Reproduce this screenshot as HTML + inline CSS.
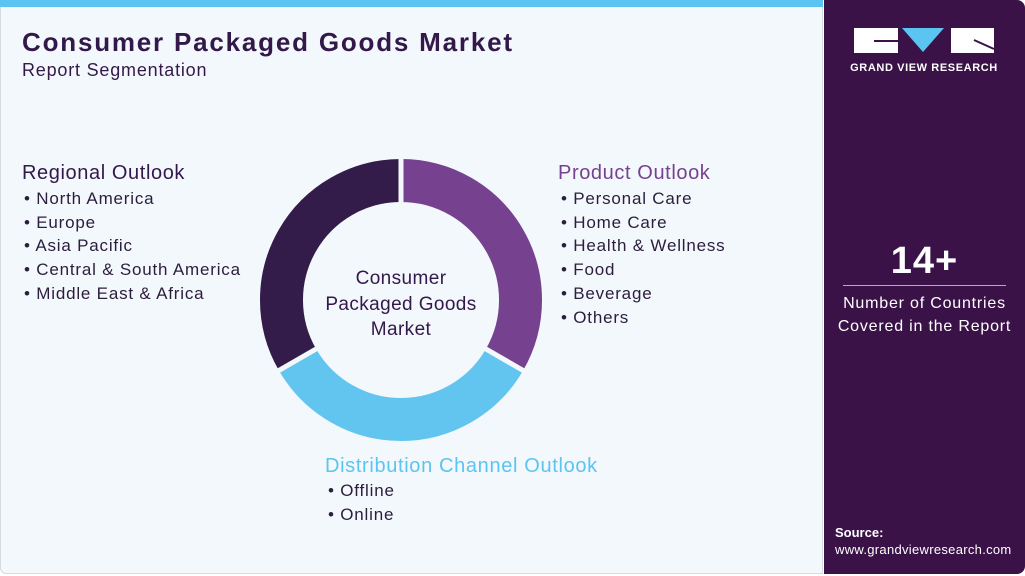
<!DOCTYPE html>
<html><head><meta charset="utf-8"><style>
body{margin:0;width:1025px;height:576px;overflow:hidden;font-family:"Liberation Sans",sans-serif;background:#fff}
.main{position:absolute;left:0;top:0;width:823px;height:574px;background:#f3f8fc;border:1px solid #d6dbe0;border-radius:0 0 0 6px;box-sizing:border-box}
.bar{position:absolute;left:0;top:0;width:823px;height:7px;background:#5bc4f1}
.side{position:absolute;left:824px;top:0;width:201px;height:574px;background:#3a1248;border-radius:0 8px 8px 0}
.t{position:absolute;white-space:nowrap}
.list div{font-size:17px;color:#2b1d3c;line-height:23.7px;letter-spacing:0.8px}
.h{font-size:20px;letter-spacing:0.6px}
</style></head><body>
<div class="main"></div><div class="bar"></div>
<div class="t" style="left:22px;top:27px;font-size:26px;font-weight:900;color:#33194a;letter-spacing:1.8px">Consumer Packaged Goods Market</div>
<div class="t" style="left:22px;top:60px;font-size:18px;color:#33194a;letter-spacing:0.8px">Report Segmentation</div>

<div class="t h" style="left:22px;top:162px;color:#33194a">Regional Outlook</div>
<div class="t list" style="left:24px;top:187px"><div>• North America</div><div>• Europe</div><div>• Asia Pacific</div><div>• Central &amp; South America</div><div>• Middle East &amp; Africa</div></div>

<div class="t h" style="left:558px;top:162px;color:#76418f">Product Outlook</div>
<div class="t list" style="left:561px;top:187px"><div>• Personal Care</div><div>• Home Care</div><div>• Health &amp; Wellness</div><div>• Food</div><div>• Beverage</div><div>• Others</div></div>

<div class="t h" style="left:325px;top:455px;color:#5bc4f1;letter-spacing:0.65px">Distribution Channel Outlook</div>
<div class="t list" style="left:328px;top:479px"><div>• Offline</div><div>• Online</div></div>

<svg style="position:absolute;left:0;top:0" width="823" height="576">
<g transform="translate(401,300)" fill="none" stroke-width="43">
<path d="M0,-119.5 A119.5,119.5 0 0 1 103.5,59.75" stroke="#76418f"/>
<path d="M103.5,59.75 A119.5,119.5 0 0 1 -103.5,59.75" stroke="#62c5f0"/>
<path d="M-103.5,59.75 A119.5,119.5 0 0 1 0,-119.5" stroke="#331c49"/>
<g stroke="#f3f8fc" stroke-width="5">
<line x1="0" y1="-90" x2="0" y2="-150"/>
<line x1="78" y1="45" x2="130" y2="75"/>
<line x1="-78" y1="45" x2="-130" y2="75"/>
</g></g>
<g font-size="19" fill="#33194a" text-anchor="middle" font-family="Liberation Sans" letter-spacing="0.4">
<text x="401" y="284">Consumer</text>
<text x="401" y="310">Packaged Goods</text>
<text x="401" y="335">Market</text></g>
</svg>

<div class="side"></div>
<svg style="position:absolute;left:824px;top:0" width="201" height="80">
<rect x="30" y="28" width="44" height="25" fill="#fff"/>
<path d="M50,41 H74" stroke="#3a1248" stroke-width="2"/>
<polygon points="78,28 120,28 99,52" fill="#5bc4f1"/>
<rect x="127" y="28" width="43" height="25" fill="#fff"/>
<path d="M150,40 L170,49" stroke="#3a1248" stroke-width="2"/>
<text x="100" y="71" font-size="11" font-weight="bold" fill="#fff" text-anchor="middle" font-family="Liberation Sans" letter-spacing="0.6">GRAND VIEW RESEARCH</text>
</svg>
<div class="t" style="left:824px;width:201px;text-align:center;top:240px;font-size:38px;font-weight:bold;color:#fff;letter-spacing:1px">14+</div>
<div style="position:absolute;left:843px;top:285px;width:163px;height:1px;background:#b8a8c4"></div>
<div class="t" style="left:824px;width:201px;text-align:center;top:292px;font-size:16px;color:#fff;line-height:23px;letter-spacing:0.8px">Number of Countries<br>Covered in the Report</div>
<div class="t" style="left:835px;top:525px;font-size:13px;font-weight:bold;color:#fff">Source:</div>
<div class="t" style="left:835px;top:542px;font-size:13px;color:#fff;letter-spacing:0.3px">www.grandviewresearch.com</div>
</body></html>
